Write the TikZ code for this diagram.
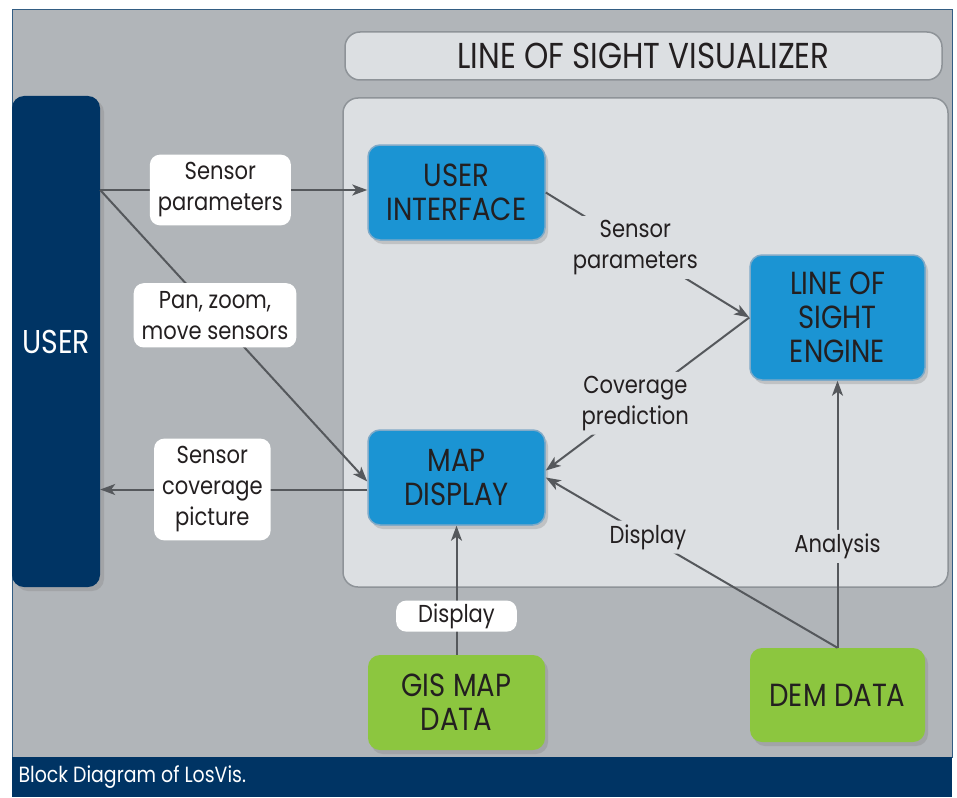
\documentclass[tikz,border=0pt]{standalone}
\usepackage{fontspec}
\setmainfont{Poppins}[FakeStretch=0.86]
\usetikzlibrary{arrows.meta,shadows}
\definecolor{bggray}{RGB}{177,181,185}
\definecolor{panel}{RGB}{220,223,226}
\definecolor{panelline}{RGB}{142,147,152}
\definecolor{navy}{RGB}{0,52,100}
\definecolor{bblue}{RGB}{27,148,211}
\definecolor{bline}{RGB}{128,170,200}
\definecolor{ggreen}{RGB}{140,198,63}
\definecolor{arrowgray}{RGB}{85,88,92}
\definecolor{inkblack}{RGB}{35,31,32}

\begin{document}
\begin{tikzpicture}[
			x=1pt, y=-1pt,
			block/.style={rounded corners=12, minimum width=177, minimum height=95,
				align=center, text=inkblack, font=\fontsize{32}{34}\selectfont,
				drop shadow={opacity=0.3, shadow xshift=3pt, shadow yshift=-4pt}},
			bluebox/.style={block, fill=bblue, draw=bline, line width=1.5},
			greenbox/.style={block, fill=ggreen},
			flow/.style={draw=arrowgray, line width=2,
				-{Stealth[length=15pt, width=11pt, inset=4pt]}},
			lbl/.style={fill=white, rounded corners=10, align=center, text=inkblack,
				font=\fontsize{24.5}{31}\selectfont, inner xsep=8pt, inner ysep=8pt},
			plain/.style={lbl, fill=panel, inner xsep=4pt, inner ysep=4pt},
			frame/.style={rounded corners=15, fill=panel, draw=panelline, line width=1.5}
		]
			\useasboundingbox (0,0) rectangle (957,797);
			% background and caption
			\fill[bggray, draw=navy!80, line width=1] (12,10) rectangle (952,757);
			\fill[navy] (12,757) rectangle (952,797);
			\node[anchor=west, text=white, font=\fontsize{22}{24}\selectfont] (cap) at (15,777) {Block Diagram of LosVis.};
			% visualizer
			\node[frame, minimum width=597, minimum height=48, font=\fontsize{36}{38}\selectfont, text=inkblack] (title) at (643.5,56) {LINE OF SIGHT VISUALIZER};
			\node[frame, minimum width=605, minimum height=489] (vis) at (645.5,342.5) {};
			% user
			\node[rounded corners=12, fill=navy, minimum width=88, minimum height=491, text=white,
				font=\fontsize{33}{35}\selectfont,
				drop shadow={opacity=0.3, shadow xshift=4pt, shadow yshift=-4pt}] (user) at (56,341.5) {USER};
			% blocks
			\node[bluebox] (ui) at (456.5,192.5) {USER\\INTERFACE};
			\node[bluebox, minimum width=175, minimum height=125] (engine) at (837.5,317.5) {LINE OF\\SIGHT\\ENGINE};
			\node[bluebox] (map) at (456.5,477.5) {MAP\\DISPLAY};
			\node[greenbox] (gis) at (456.5,702.5) {GIS MAP\\DATA};
			\node[greenbox, minimum width=175, minimum height=94] (dem) at (837.5,695) {DEM DATA};
			% connectors
			\draw[flow] (user.east |- 0,190) -- node[lbl, pos=0.45] (l1) {Sensor\\parameters} (ui.west |- 0,190);
			\draw[flow] (user.east |- 0,190) -- node[lbl, pos=0.43] (l2) {Pan, zoom,\\move sensors} ([yshift=-4pt]map.west);
			\draw[flow] ([yshift=-12pt]map.west) -- node[lbl, pos=0.58] (l3) {Sensor\\coverage\\picture} (user.east |- 0,489.5);
			\draw[flow] (ui.east) -- node[plain, pos=0.44] (l4) {Sensor\\parameters} (engine.west);
			\draw[flow] (engine.west) -- node[plain, pos=0.56] (l5) {Coverage\\prediction} ([yshift=7pt]map.east);
			\draw[flow] (dem.north) -- node[plain, pos=0.65] (l6) {Display} (map.east);
			\draw[flow] (dem.north) -- node[plain, pos=0.38] (l7) {Analysis} (engine.south);
			\draw[flow] (gis.north) -- node[lbl, pos=0.3, inner xsep=22pt, inner ysep=3pt] (l8) {Display} (map.south);
		\end{tikzpicture}
\end{document}
